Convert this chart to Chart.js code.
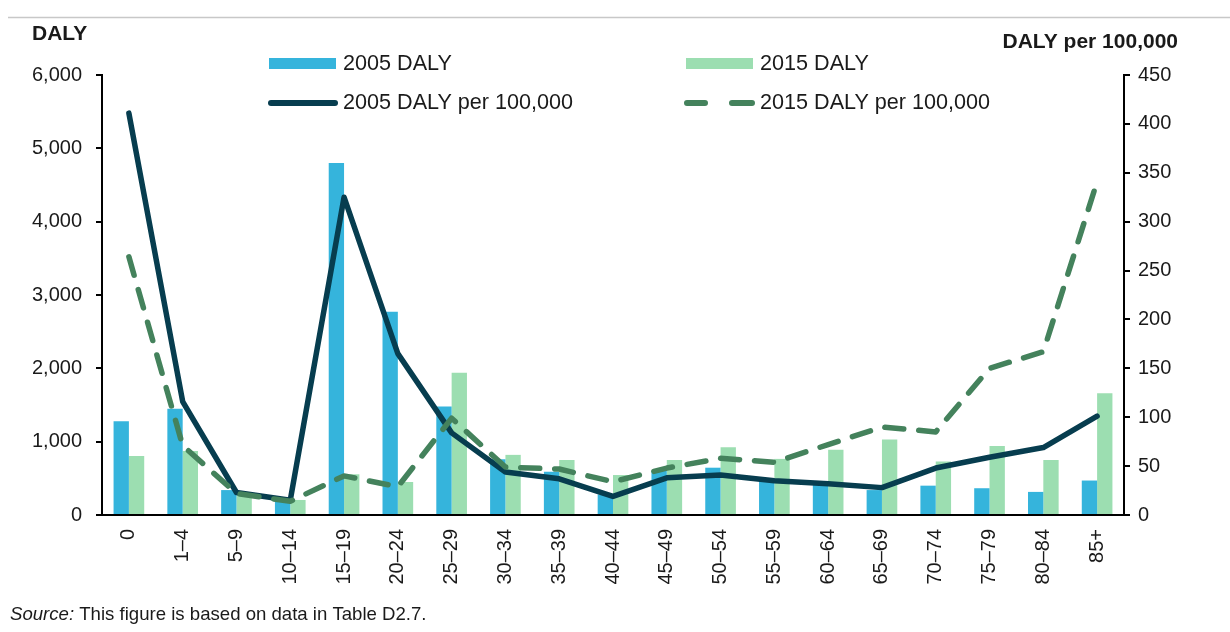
<!DOCTYPE html>
<html>
<head>
<meta charset="utf-8">
<script src="https://cdn.jsdelivr.net/npm/chart.js@4.4.1/dist/chart.umd.min.js"></script>
<style>
  body { margin: 0; background: #fff; }
  #wrap { position: relative; width: 1230px; height: 632px; }
</style>
</head>
<body>
<div id="wrap"><canvas id="dalyChart" width="1230" height="632"></canvas></div>
<script>
// ------------------- DATA -------------------
const ageGroups = ["0", "1–4", "5–9", "10–14", "15–19", "20–24", "25–29", "30–34", "35–39", "40–44",
  "45–49", "50–54", "55–59", "60–64", "65–69", "70–74", "75–79", "80–84", "85+"];

const daly2005 = [1280, 1450, 340, 190, 4800, 2770, 1480, 760, 590, 280, 600, 645, 490, 430, 340, 400, 365, 315, 470];
const daly2015 = [805, 873, 300, 205, 555, 450, 1940, 820, 750, 545, 750, 925, 765, 890, 1030, 730, 940, 750, 1660];

const rate2005 = [411, 116, 23, 15, 325, 165, 84, 44, 37, 19, 38, 41, 35, 32, 28, 48, 59, 69, 101];
const rate2015 = [264, 71, 22, 14, 40, 29, 99, 49, 47, 34, 48, 58, 54, 72, 90, 85, 150, 167, 341];

const leftTicks = { min: 0, max: 6000, step: 1000 };
const rightTicks = { min: 0, max: 450, step: 50 };

// ------------------- STYLE -------------------
const FONT = "'Liberation Sans', Arial, sans-serif";
const TEXT = "#1a1a1a";
const BLUE = "#35b4dc";
const MINT = "#9cdeb1";
const DARK = "#073d4f";
const GREEN = "#44825c";

// ------------------- EXTRA DRAWING (titles, legend, source) -------------------
const decorations = {
  id: "decorations",
  afterDraw(chart) {
    const ctx = chart.ctx;
    ctx.save();

    // grey rule under the (cropped) figure title
    ctx.strokeStyle = "#c8c8c8";
    ctx.lineWidth = 1.5;
    ctx.beginPath();
    ctx.moveTo(8, 17.5);
    ctx.lineTo(1230, 17.5);
    ctx.stroke();

    // axis titles
    ctx.fillStyle = TEXT;
    ctx.font = "bold 21px " + FONT;
    ctx.textBaseline = "middle";
    ctx.textAlign = "left";
    ctx.fillText("DALY", 32, 34);
    ctx.textAlign = "right";
    ctx.fillText("DALY per 100,000", 1178, 42.5);

    // legend
    const ds = chart.data.datasets;
    ctx.font = "21.6px " + FONT;
    ctx.textAlign = "left";
    ctx.fillStyle = ds[0].backgroundColor;
    ctx.fillRect(269, 58, 67, 11);
    ctx.fillStyle = ds[1].backgroundColor;
    ctx.fillRect(686, 58, 67, 11);

    ctx.lineCap = "round";
    ctx.lineWidth = 6;
    ctx.strokeStyle = ds[2].borderColor;
    ctx.beginPath();
    ctx.moveTo(271, 103);
    ctx.lineTo(335, 103);
    ctx.stroke();

    ctx.strokeStyle = ds[3].borderColor;
    ctx.beginPath();
    ctx.moveTo(687, 103);
    ctx.lineTo(705, 103);
    ctx.moveTo(732, 103);
    ctx.lineTo(752, 103);
    ctx.stroke();

    ctx.fillStyle = TEXT;
    ctx.fillText(ds[0].label, 343, 64);
    ctx.fillText(ds[1].label, 760, 64);
    ctx.fillText(ds[2].label, 343, 103);
    ctx.fillText(ds[3].label, 760, 103);

    // source note
    ctx.font = "italic 18.6px " + FONT;
    ctx.fillText("Source:", 10, 615);
    const w = ctx.measureText("Source:").width;
    ctx.font = "18.6px " + FONT;
    ctx.fillText(" This figure is based on data in Table D2.7.", 10 + w, 615);

    ctx.restore();
  }
};

// ------------------- CHART -------------------
const ctx = document.getElementById("dalyChart").getContext("2d");

const dalyChart = new Chart(ctx, {
  type: "bar",
  data: {
    labels: ageGroups,
    datasets: [
      {
        label: "2005 DALY",
        data: daly2005,
        backgroundColor: BLUE,
        yAxisID: "y",
        order: 3
      },
      {
        label: "2015 DALY",
        data: daly2015,
        backgroundColor: MINT,
        yAxisID: "y",
        order: 3
      },
      {
        type: "line",
        label: "2005 DALY per 100,000",
        data: rate2005,
        borderColor: DARK,
        borderWidth: 5.5,
        borderCapStyle: "round",
        borderJoinStyle: "round",
        pointRadius: 0,
        tension: 0,
        yAxisID: "y2",
        order: 2
      },
      {
        type: "line",
        label: "2015 DALY per 100,000",
        data: rate2015,
        borderColor: GREEN,
        borderWidth: 5.5,
        borderDash: [19, 15],
        borderCapStyle: "round",
        borderJoinStyle: "round",
        pointRadius: 0,
        tension: 0,
        yAxisID: "y2",
        order: 1
      }
    ]
  },
  options: {
    responsive: false,
    animation: false,
    layout: { padding: { top: 75, left: 0, right: 0, bottom: 0 } },
    datasets: {
      bar: { categoryPercentage: 0.57, barPercentage: 1.0 }
    },
    plugins: {
      legend: { display: false },
      tooltip: { enabled: false }
    },
    scales: {
      x: {
        grid: { display: false, drawTicks: false },
        border: { display: true, color: "#000", width: 2 },
        ticks: {
          minRotation: 90,
          maxRotation: 90,
          padding: 14,
          color: TEXT,
          font: { family: FONT, size: 20 }
        },
        afterFit: s => { s.height = 117; }
      },
      y: {
        position: "left",
        min: leftTicks.min,
        max: leftTicks.max,
        ticks: {
          stepSize: leftTicks.step,
          padding: 14,
          color: TEXT,
          font: { family: FONT, size: 20 },
          callback: v => v.toLocaleString("en-US")
        },
        grid: { drawOnChartArea: false, color: "#000", lineWidth: 2, tickLength: 6 },
        border: { color: "#000", width: 2 },
        afterFit: s => { s.width = 102; }
      },
      y2: {
        position: "right",
        min: rightTicks.min,
        max: rightTicks.max,
        ticks: {
          stepSize: rightTicks.step,
          padding: 8,
          color: TEXT,
          font: { family: FONT, size: 20 }
        },
        grid: { drawOnChartArea: false, color: "#000", lineWidth: 2, tickLength: 6 },
        border: { color: "#000", width: 2 },
        afterFit: s => { s.width = 106; }
      }
    }
  },
  plugins: [decorations]
});
</script>
</body>
</html>
